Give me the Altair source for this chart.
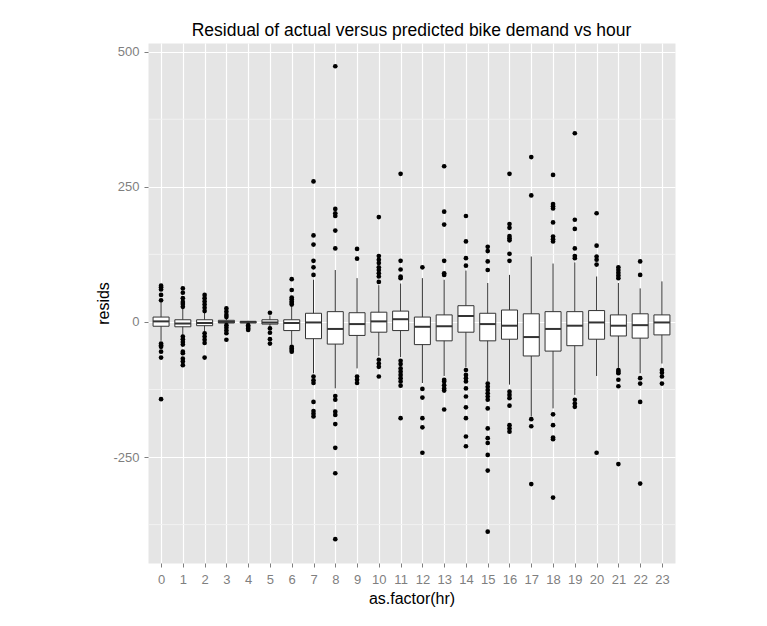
import altair as alt
import pandas as pd

hours = list(range(24))
q1 = [-8, -9, -7, -2, -2, -4, -16, -31, -41, -25, -19, -16, -42, -35, -19, -35, -32, -63, -54, -44, -32, -26, -30, -24]
med = [1, -3, -2, 0, 0, -1, -2, -1, -13, -4, 1, 5, -9, -8, 11, -4, -7, -28, -13, -7, -1, -7, -6, -1]
q3 = [9, 4, 4, 3, 1, 4, 4, 16, 19, 17, 18, 20, 9, 13, 30, 16, 22, 15, 19, 19, 21, 13, 15, 13]
wlo = [-35, -25, -18, -5, -4, -9, -42, -95, -123, -86, -63, -65, -113, -100, -84, -110, -116, -175, -160, -135, -100, -85, -95, -77]
whi = [36, 25, 18, 6, 2, 12, 28, 78, 96, 81, 68, 71, 81, 78, 95, 72, 87, 121, 108, 110, 84, 72, 62, 75]
outliers = [
    [67, 64, 60, 50, 40, -40, -43, -46, -55, -66, -143],
    [62, 54, 44, 37, 33, 28, -27, -32, -37, -42, -55, -58, -68, -73, -80],
    [50, 44, 38, 32, 26, 20, -21, -27, -33, -39, -66],
    [25, 19, 13, 9, -6, -11, -16, -21, -33],
    [-6, -9, -12, -15],
    [17, -12, -20, -32, -40],
    [79, 59, 45, 42, 38, 35, 32, -46, -49, -52, -55],
    [260, 160, 143, 113, 101, 87, -101, -108, -113, -148, -165, -170, -175],
    [473, 209, 201, 196, 169, 136, -137, -144, -166, -172, -189, -233, -280, -402],
    [135, 117, -101, -107, -113],
    [194, 122, 115, 109, 101, 96, 90, 84, 74, -70, -77, -83, -101],
    [274, 113, 97, 84, 81, -72, -78, -86, -92, -98, -104, -110, -118, -178],
    [101, -124, -140, -178, -195, -242],
    [288, 204, 180, 113, 90, 87, -107, -110, -117, -123, -127, -162],
    [196, 149, 118, 104, -89, -98, -104, -110, -123, -138, -158, -178, -212, -230],
    [139, 131, 112, 96, -114, -120, -126, -132, -138, -144, -160, -197, -215, -224, -246, -275, -388],
    [274, 181, 174, 159, 155, 151, 126, 113, -129, -135, -141, -155, -191, -197, -203],
    [305, 234, -180, -193, -300],
    [272, 218, 214, 210, 184, 158, 153, 149, -171, -191, -214, -217, -325],
    [349, 189, 172, 136, 122, 118, -144, -151, -157],
    [201, 141, 121, 115, 106, -242],
    [101, 96, 91, 86, 81, -89, -92, -95, -107, -119, -263],
    [112, 87, -104, -114, -148, -299],
    [-89, -94, -101, -114],
]
minor_breaks = [-375, -125, 125, 375]
y_ticks = [-250, 0, 250, 500]

boxes = pd.DataFrame({"hour": hours, "q1": q1, "med": med, "q3": q3, "wlo": wlo, "whi": whi})
outs = pd.DataFrame([{"hour": h, "resid": v} for h, vals in zip(hours, outliers) for v in vals])
minor = pd.DataFrame({"y": minor_breaks})

FONT = "Liberation Sans"
ydom = [-446, 516]

xenc = alt.X(
    "hour:O",
    scale=alt.Scale(type="point", padding=0.6),
    axis=alt.Axis(title="as.factor(hr)", labelAngle=0, grid=True),
)

minor_layer = alt.Chart(minor).mark_rule(color="#F2F2F2", strokeWidth=1).encode(
    y=alt.Y("y:Q", scale=alt.Scale(domain=ydom, nice=False, zero=False))
)

whisk = alt.Chart(boxes).mark_rule(color="#333333", strokeWidth=1).encode(
    x=xenc,
    y=alt.Y(
        "wlo:Q",
        scale=alt.Scale(domain=ydom, nice=False, zero=False),
        axis=alt.Axis(title="resids", values=y_ticks, labelExpr="'' + datum.value"),
    ),
    y2="whi:Q",
)

box = alt.Chart(boxes).mark_bar(size=16, fill="white", stroke="#333333", strokeWidth=1).encode(
    x=xenc, y="q1:Q", y2="q3:Q"
)

medl = alt.Chart(boxes).mark_tick(size=16, thickness=2, color="#333333", opacity=1).encode(
    x=xenc, y="med:Q"
)

pts = alt.Chart(outs).mark_circle(size=22, color="black", opacity=1).encode(
    x=xenc, y="resid:Q"
)

chart = (
    alt.layer(minor_layer, whisk, box, medl, pts)
    .properties(
        width=527,
        height=520,
        title=alt.TitleParams(
            "Residual of actual versus predicted bike demand vs hour",
            font=FONT, fontSize=17.5, fontWeight="normal", color="black",
            anchor="middle", offset=4,
        ),
        autosize=alt.AutoSizeParams(type="none"),
        padding={"left": 140, "top": 35, "right": 20, "bottom": 55},
    )
    .configure_view(fill="#E5E5E5", stroke="transparent")
    .configure_axis(
        labelFont=FONT, labelFontSize=13, labelColor="#7F7F7F",
        titleFont=FONT, titleFontSize=16, titleFontWeight="normal", titleColor="black",
        tickColor="#7F7F7F", tickSize=4, domain=False,
        gridColor="white", gridWidth=1.2,
    )
    .configure_axisX(labelPadding=6, titlePadding=4)
    .configure_axisY(labelPadding=5, titlePadding=1)
)

chart.save("out.html", embed_options={"renderer": "svg", "actions": False})
